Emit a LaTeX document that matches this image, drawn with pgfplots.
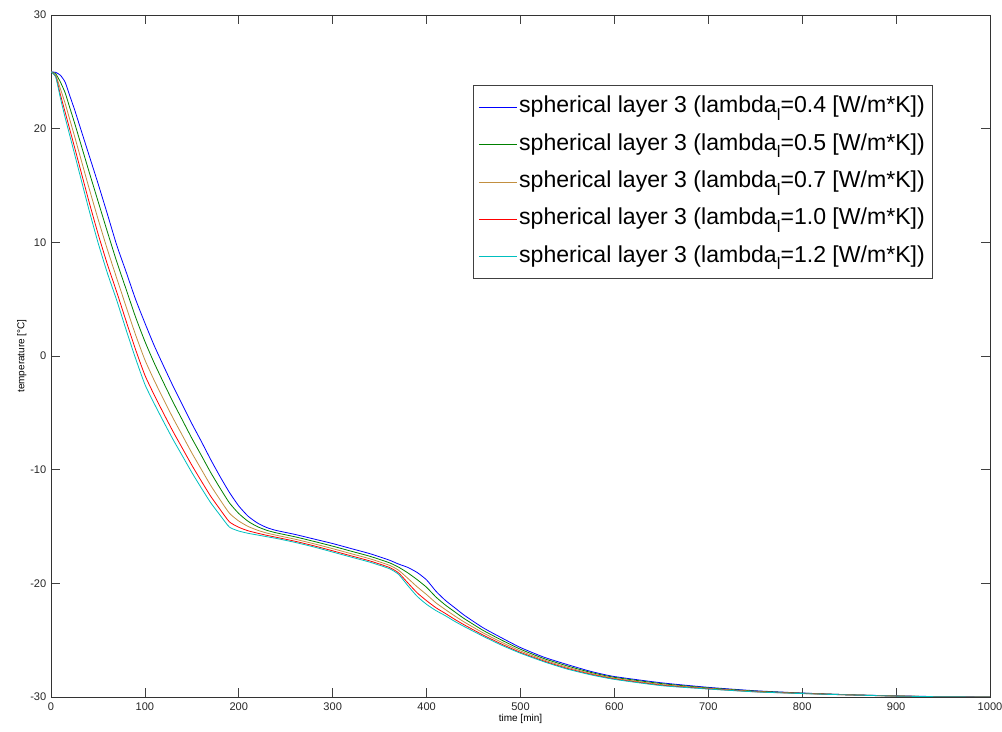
\documentclass[border=0pt]{standalone}
\usepackage{fontspec}
\setmainfont{Liberation Sans}
\usepackage{pgfplots}
\usepackage{pgfplotstable}
\pgfplotsset{compat=1.18}

\definecolor{mgreen}{rgb}{0,0.5,0}
\definecolor{mtan}{rgb}{0.76,0.56,0.25}
\definecolor{mcyan}{rgb}{0,0.75,0.75}

\newcommand{\subl}{\raisebox{-0.32em}{\fontsize{12.5}{12.5}\selectfont l}}

% time [min], then layer 3 temperature for lambda_l = 0.4 0.5 0.7 1.0 1.2
\pgfplotstableread{
x    l04    l05    l07    l10    l12
0    25     25     25     25     25
5    24.95  24.83  24.71  24.61  24.55
10   24.7   24.1   23.5   23.0   22.7
15   24.1   23.17  22.24  21.47  21.0
20   22.9   21.85  20.8   19.93  19.4
25   21.7   20.53  19.36  18.39  17.8
30   20.4   19.14  17.88  16.83  16.2
40   17.8   16.36  14.92  13.72  13.0
50   15.2   13.64  12.08  10.78  10.0
60   12.5   10.94  9.38   8.08   7.3
70   9.75   8.3    6.84   5.63   4.9
80   7.4    5.87   4.34   3.07   2.3
90   5.0    3.44   1.88   0.58   -0.2
100  2.9    1.28   -0.34  -1.69  -2.5
110  0.9    -0.63  -2.16  -3.44  -4.2
120  -0.9   -2.37  -3.84  -5.07  -5.8
130  -2.65  -4.06  -5.47  -6.65  -7.35
140  -4.3   -5.65  -7.0   -8.13  -8.8
150  -5.95  -7.24  -8.53  -9.61  -10.25
160  -7.5   -8.73  -9.96  -10.99 -11.6
170  -9.1   -10.24 -11.38 -12.33 -12.9
180  -10.6  -11.62 -12.64 -13.49 -14.0
190  -12.0  -12.92 -13.83 -14.59 -15.05
200  -13.2  -13.86 -14.52 -15.07 -15.4
210  -14.1  -14.55 -15.0  -15.38 -15.6
220  -14.7  -15.02 -15.33 -15.59 -15.75
230  -15.1  -15.34 -15.58 -15.78 -15.9
240  -15.35 -15.56 -15.77 -15.95 -16.05
260  -15.7  -15.91 -16.12 -16.3  -16.4
280  -16.1  -16.31 -16.52 -16.7  -16.8
300  -16.5  -16.73 -16.95 -17.14 -17.25
320  -16.95 -17.18 -17.4  -17.59 -17.7
340  -17.4  -17.63 -17.85 -18.04 -18.15
360  -17.95 -18.18 -18.4  -18.59 -18.7
370  -18.3  -18.57 -18.84 -19.07 -19.2
380  -18.6  -19.08 -19.56 -19.96 -20.2
390  -19.05 -19.68 -20.31 -20.84 -21.15
400  -19.7  -20.35 -20.99 -21.53 -21.85
410  -20.7  -21.21 -21.72 -22.15 -22.4
420  -21.5  -21.91 -22.31 -22.65 -22.85
430  -22.15 -22.51 -22.87 -23.17 -23.35
440  -22.8  -23.1  -23.4  -23.65 -23.8
460  -23.9  -24.13 -24.35 -24.54 -24.65
480  -24.8  -25.0  -25.19 -25.35 -25.45
500  -25.65 -25.8  -25.95 -26.08 -26.15
525  -26.5  -26.62 -26.74 -26.84 -26.9
550  -27.15 -27.27 -27.39 -27.49 -27.55
575  -27.75 -27.84 -27.93 -28.0  -28.05
600  -28.2  -28.27 -28.35 -28.41 -28.45
650  -28.75 -28.82 -28.9  -28.96 -29.0
700  -29.15 -29.2  -29.24 -29.28 -29.3
750  -29.45 -29.48 -29.51 -29.54 -29.55
800  -29.65 -29.66 -29.68 -29.69 -29.7
850  -29.8  -29.8  -29.81 -29.82 -29.82
900  -29.9  -29.91 -29.91 -29.92 -29.92
950  -29.97 -29.98 -29.98 -29.98 -29.98
1000 -30    -30    -30    -30    -30
}\layerthree

\begin{document}
\begin{tikzpicture}
\useasboundingbox (-38.25pt,-25.5pt) rectangle (713.25pt,522.75pt);
\begin{axis}[
    at={(0,0)}, anchor=south west,
    scale only axis,
    width=704.25pt, height=511.5pt,
    xmin=0, xmax=1000, ymin=-30, ymax=30,
    xtick={0,100,...,1000},
    ytick={-30,-20,...,30},
    tick align=inside,
    major tick length=7pt,
    axis line style={black!80, line width=0.6pt},
    every tick/.style={black!75, line width=0.6pt},
    /pgf/number format/assume math mode=true,
    /pgf/number format/1000 sep={},
    tick label style={font=\fontsize{8.3}{10}\selectfont, black!85},
    xticklabel style={yshift=-1pt},
    xlabel={time [min]},
    ylabel={temperature [°C]},
    label style={font=\fontsize{7.5}{9}\selectfont},
    xlabel style={yshift=4pt},
    ylabel style={yshift=-4pt},
    legend cell align=left,
    legend image code/.code={\draw[#1] (0pt,0pt) -- (28.5pt,0pt);},
    legend style={
        at={(0.449,0.897)}, anchor=north west,
        draw=black!75, line width=0.6pt,
        font=\fontsize{17.3}{20}\selectfont,
        inner xsep=4pt, inner ysep=6.5pt,
        row sep=8.5pt,
        nodes={inner sep=1.5pt, text height=12.5pt, text depth=4pt},
    },
    every axis plot/.append style={line width=0.6pt, smooth, tension=0.35},
]
\addplot[blue] table[x=x, y=l04] {\layerthree};
\addplot[mgreen] table[x=x, y=l05] {\layerthree};
\addplot[mtan] table[x=x, y=l07] {\layerthree};
\addplot[red] table[x=x, y=l10] {\layerthree};
\addplot[mcyan] table[x=x, y=l12] {\layerthree};
\legend{
    spherical layer 3 (lambda\subl=0.4 [W/m*K]),
    spherical layer 3 (lambda\subl=0.5 [W/m*K]),
    spherical layer 3 (lambda\subl=0.7 [W/m*K]),
    spherical layer 3 (lambda\subl=1.0 [W/m*K]),
    spherical layer 3 (lambda\subl=1.2 [W/m*K])
}
\end{axis}
\end{tikzpicture}
\end{document}
